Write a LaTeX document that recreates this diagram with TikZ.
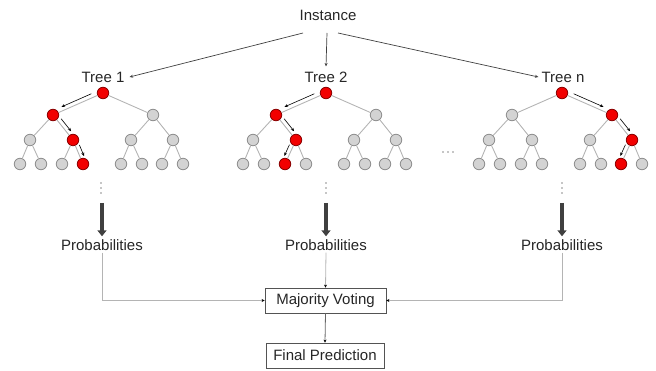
\documentclass[tikz,border=0pt]{standalone}
\usepackage{fontspec}
\setmainfont{Liberation Sans}
\usetikzlibrary{arrows.meta,calc}
\definecolor{txt}{HTML}{262626}
\definecolor{edgec}{HTML}{B4B4B4}
\definecolor{grayfill}{HTML}{D3D3D3}
\definecolor{grayline}{HTML}{8E8E8E}
\definecolor{redfill}{HTML}{F20000}
\definecolor{redline}{HTML}{8A0000}
\definecolor{thickc}{HTML}{404040}
\tikzset{
  lbl/.style={text=txt,font=\fontsize{15}{18}\selectfont,inner sep=2pt},
  graynd/.style={circle,draw=grayline,fill=grayfill,line width=0.8pt,minimum size=11.5pt,inner sep=0pt},
  rednd/.style={circle,draw=redline,fill=redfill,line width=0.8pt,minimum size=11.5pt,inner sep=0pt},
  edge/.style={draw=edgec,line width=0.9pt},
  patharrow/.style={draw=black,line width=0.6pt,-{Stealth[length=3.5pt,width=3pt]}},
  instarrow/.style={draw=thickc,line width=0.7pt,-{Stealth[length=3.5pt,width=3pt]}},
  bigarrow/.style={draw=thickc,line width=3.6pt,-{Triangle[length=6pt,width=9pt]}},
  conn/.style={draw=edgec,line width=0.8pt,-{Stealth[length=3pt,width=3pt,color=black]}},
  conndark/.style={draw=thickc!80,line width=0.8pt,-{Stealth[length=3pt,width=3pt,color=black]}},
  box/.style={lbl,draw=thickc!90,line width=0.8pt,minimum height=25pt,inner xsep=4pt},
  dotc/.style={fill=gray!90}
}
\newcommand\drawtree[5]{%
  \node[rednd] (#1r) at (#2,93) {};
  \foreach \i/\dx in {1/-50,2/50}{%
    \ifnum\i=#3\relax \node[rednd] (#1a\i) at ({#2+(\dx)},115) {};%
    \else \node[graynd] (#1a\i) at ({#2+(\dx)},115) {};\fi}
  \foreach \i/\dx in {1/-73,2/-30,3/28,4/70}{%
    \ifnum\i=#4\relax \node[rednd] (#1b\i) at ({#2+(\dx)},140) {};%
    \else \node[graynd] (#1b\i) at ({#2+(\dx)},140) {};\fi}
  \foreach \i/\dx in {1/-83,2/-62,3/-41,4/-20,5/18,6/39,7/59,8/80}{%
    \ifnum\i=#5\relax \node[rednd] (#1c\i) at ({#2+(\dx)},164) {};%
    \else \node[graynd] (#1c\i) at ({#2+(\dx)},164) {};\fi}
  \foreach \i in {1,2}{\draw[edge] (#1r) -- (#1a\i);}
  \foreach \i in {1,...,4}{\pgfmathtruncatemacro\p{(\i+1)/2}\draw[edge] (#1a\p) -- (#1b\i);}
  \foreach \i in {1,...,8}{\pgfmathtruncatemacro\p{(\i+1)/2}\draw[edge] (#1b\p) -- (#1c\i);}
}
\newcommand\parr[5]{\draw[patharrow,shorten <=#5,shorten >=#5] ($(#1)!4pt!#3:(#2)$) -- ($(#2)!4pt!#4:(#1)$);}
\newcommand\vdotsat[2]{\fill[dotc] (#1,#2) circle (0.8); \fill[dotc] (#1,#2+5) circle (0.8); \fill[dotc] (#1,#2+10) circle (0.8);}
\begin{document}
\begin{tikzpicture}[x=1pt,y=-1pt]
\useasboundingbox (0,0) rectangle (656,371);
% labels
\node[lbl] (inst) at (328,15) {Instance};
\node[lbl] (lab1) at (103,77) {Tree 1};
\node[lbl] (lab2) at (326,77) {Tree 2};
\node[lbl] (labn) at (563,77) {Tree n};
\coordinate (i1) at (303,33);
\coordinate (i2) at (327,33);
\coordinate (i3) at (338,33);
\draw[instarrow] (i1) -- ([xshift=3pt]lab1.east);
\draw[instarrow] (i2) -- ([yshift=3pt]lab2.north);
\draw[instarrow] (i3) -- ([xshift=-1pt]labn.west);
% trees
\drawtree{t1}{103}{1}{2}{4}
\drawtree{t2}{326}{1}{2}{3}
\drawtree{tn}{562}{2}{4}{7}
\parr{t1r}{t1a1}{-90}{90}{11pt}
\parr{t1a1}{t1b2}{90}{-90}{8pt}
\parr{t1b2}{t1c4}{90}{-90}{7pt}
\parr{t2r}{t2a1}{-90}{90}{11pt}
\parr{t2a1}{t2b2}{90}{-90}{8pt}
\parr{t2b2}{t2c3}{-90}{90}{7pt}
\parr{tnr}{tna2}{90}{-90}{11pt}
\parr{tna2}{tnb4}{90}{-90}{8pt}
\parr{tnb4}{tnc7}{-90}{90}{7pt}
% dots
\vdotsat{101}{183}
\vdotsat{326}{183}
\vdotsat{562}{183}
\fill[dotc] (443,152) circle (0.8); \fill[dotc] (448,152) circle (0.8); \fill[dotc] (453,152) circle (0.8);
% probabilities
\node[lbl] (p1) at (102,245) {Probabilities};
\node[lbl] (p2) at (326,245) {Probabilities};
\node[lbl] (pn) at (562,245) {Probabilities};
\coordinate (b1) at (102,203);
\coordinate (b2) at (326,203);
\coordinate (bn) at (562,203);
\draw[bigarrow] (b1) -- ([yshift=1pt]p1.north);
\draw[bigarrow] (b2) -- ([yshift=1pt]p2.north);
\draw[bigarrow] (bn) -- ([yshift=1pt]pn.north);
% boxes
\node[box,minimum width=121pt] (mv) at (325.5,300.5) {Majority Voting};
\node[box,minimum width=118pt] (fp) at (325,355.5) {Final Prediction};
\draw[conn] (p1.south) |- (mv.west);
\draw[conn] (pn.south) |- (mv.east);
\draw[conn] (p2.south) -- (mv.north);
\draw[conndark] (mv.south) -- (fp.north);
\end{tikzpicture}
\end{document}
